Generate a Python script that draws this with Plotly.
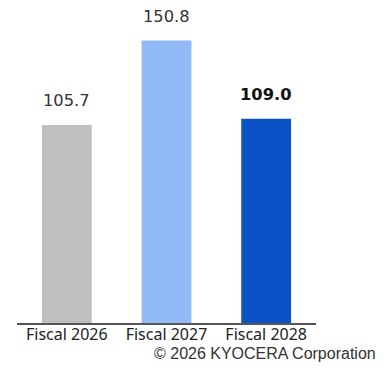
import plotly.graph_objects as go

# Fiscal-year values
categories = ["Fiscal 2026", "Fiscal 2027", "Fiscal 2028"]
values = [105.7, 150.8, 109.0]
value_labels = ["105.7", "150.8", "<b>109.0</b>"]
bar_colors = ["#bfbfbf", "#92baf7", "#0b52c6"]
label_colors = ["#333333", "#333333", "#111111"]

fig = go.Figure(
    go.Bar(
        x=categories,
        y=values,
        marker=dict(color=bar_colors, line=dict(width=0)),
        width=0.5,
        hoverinfo="skip",
    )
)

# Value labels above each bar
for cat, val, txt, col in zip(categories, values, value_labels, label_colors):
    fig.add_annotation(
        x=cat, y=val, text=txt, showarrow=False,
        yanchor="middle", yshift=24,
        font=dict(family="DejaVu Sans", size=16.3, color=col),
    )

# Copyright line under the axis
fig.add_annotation(
    x=1.0, xref="paper", xanchor="right", xshift=62,
    y=0, yref="paper", yanchor="middle", yshift=-30,
    text="© 2026 KYOCERA Corporation", showarrow=False,
    font=dict(family="Liberation Sans, Arial", size=16, color="#333333"),
)

fig.update_layout(
    width=391, height=373,
    margin=dict(l=17, r=75, t=0, b=50),
    plot_bgcolor="white", paper_bgcolor="white",
    showlegend=False,
    xaxis=dict(
        range=[-0.5, 2.5],
        showline=True, linecolor="#555555", linewidth=2,
        ticks="", showgrid=False, ticklabelstandoff=-4,
        tickfont=dict(family="Noto Sans", size=16, color="#222222"),
    ),
    yaxis=dict(range=[0, 172.4], visible=False, showgrid=False),
)

fig.write_html("out.html")
